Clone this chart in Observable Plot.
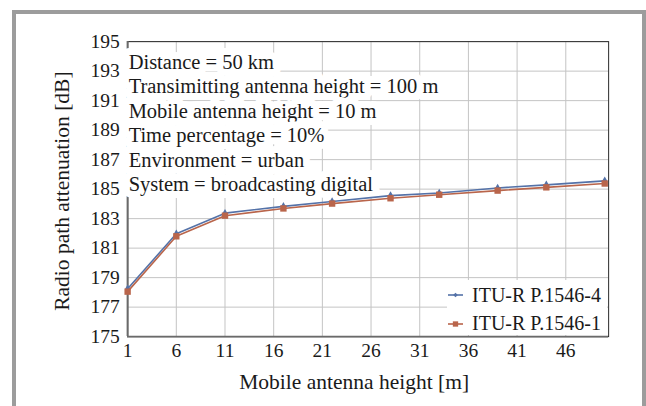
<!DOCTYPE html>
<html>
<head>
<meta charset="utf-8">
<script src="https://cdn.jsdelivr.net/npm/d3@7"></script>
<script src="https://cdn.jsdelivr.net/npm/@observablehq/plot@0.6"></script>
<style>
  html, body { margin: 0; padding: 0; background: white; }
  #wrap { position: relative; width: 646px; height: 406px; overflow: hidden; }
  #wrap > svg.plotsvg { position: absolute; left: 0; top: 0; width: 646px; height: 406px; max-width: none; }
  #frame { position: absolute; left: 12px; top: 10px; width: 634px; height: 420px; box-sizing: border-box;
           border: 4px solid #9c9c9c; border-bottom: none; pointer-events: none; }
  #legend { position: absolute; left: 447px; top: 280px; width: 160px; height: 55px; background: white; }
  .item { position: absolute; left: 0; height: 24px; display: flex; align-items: center; color: #1a1a1a; white-space: nowrap; line-height: 1.15; }
  .item svg { margin-right: 9px; }
</style>
</head>
<body>
<div id="wrap">
  <div id="frame"></div>
</div>
<script>
// ---- data ----
const heights = [1, 6, 11, 17, 22, 28, 33, 39, 44, 50];
const p1546_4 = [178.25, 181.97, 183.37, 183.83, 184.16, 184.56, 184.74, 185.08, 185.29, 185.56];
const p1546_1 = [178.05, 181.8, 183.2, 183.69, 184.02, 184.38, 184.62, 184.9, 185.12, 185.38];
const seriesNames = ["ITU-R P.1546-4", "ITU-R P.1546-1"];
const seriesColors = ["#5472a8", "#b9654b"];
const xTicks = [1, 6, 11, 16, 21, 26, 31, 36, 41, 46];
const yTicks = [175, 177, 179, 181, 183, 185, 187, 189, 191, 193, 195];
const xDomain = [1, 50.4];
const yDomain = [175, 195];
const annotation = [
  "Distance = 50 km",
  "Transimitting antenna height = 100 m",
  "Mobile antenna height = 10 m",
  "Time percentage = 10%",
  "Environment = urban",
  "System = broadcasting digital"
];
const xLabel = "Mobile antenna height [m]";
const yLabel = "Radio path attenuation [dB]";

const s4 = heights.map((h, i) => ({x: h, y: p1546_4[i]}));
const s1 = heights.map((h, i) => ({x: h, y: p1546_1[i]}));

// laid out at 1/k and scaled up by the SVG viewBox
const k = 1.25;
const s = v => v / k;
const serif = "'Liberation Serif'";
const chart = Plot.plot({
  width: s(646),
  height: s(406),
  marginLeft: s(127),
  marginRight: s(38),
  marginTop: s(41),
  marginBottom: s(70),
  style: {fontFamily: serif, fontSize: s(19.5) + "px", background: "transparent", color: "#1a1a1a"},
  x: {domain: xDomain},
  y: {domain: yDomain},
  marks: [
    Plot.gridX(xTicks, {stroke: "#c4c4c4", strokeOpacity: 1, strokeWidth: s(1)}),
    Plot.gridY(yTicks, {stroke: "#c4c4c4", strokeOpacity: 1, strokeWidth: s(1)}),
    Plot.frame({stroke: "#2a2a2a", strokeWidth: s(1)}),
    Plot.ruleX([xDomain[0]], {stroke: "#6a6a6a", strokeWidth: s(2)}),
    Plot.ruleY([yDomain[0]], {stroke: "#6a6a6a", strokeWidth: s(2)}),
    Plot.text([annotation.join("\n")], {
      frameAnchor: "top-left", dx: s(1), dy: s(10), textAnchor: "start", lineAnchor: "top",
      lineHeight: 1.19, fontSize: s(20.5), fontFamily: serif, fontWeight: "normal", fontStyle: "normal", fill: "#1a1a1a",
      stroke: "white", strokeWidth: s(14), strokeLinejoin: "round"
    }),
    Plot.line(s4, {x: "x", y: "y", stroke: seriesColors[0], strokeWidth: s(1.6)}),
    Plot.dot(s4, {x: "x", y: "y", symbol: "diamond", r: s(2.6), fill: seriesColors[0], stroke: "none"}),
    Plot.line(s1, {x: "x", y: "y", stroke: seriesColors[1], strokeWidth: s(1.6)}),
    Plot.dot(s1, {x: "x", y: "y", symbol: "square", r: s(3.6), fill: seriesColors[1], stroke: "none"}),
    Plot.axisX(xTicks, {tickSize: 0, tickPadding: s(7), fontSize: s(19.5), fontFamily: serif, label: null}),
    Plot.axisY(yTicks, {tickSize: 0, tickPadding: s(8), fontSize: s(19.5), fontFamily: serif, label: null}),
    Plot.text([xLabel], {frameAnchor: "bottom", dx: s(-14), dy: s(45), lineAnchor: "middle", fontSize: s(21.5), fontFamily: serif, fill: "#1a1a1a"}),
    Plot.text([yLabel], {frameAnchor: "left", textAnchor: "middle", rotate: -90, dx: s(-66), dy: s(2), lineAnchor: "middle", fontSize: s(21.5), fontFamily: serif, fill: "#1a1a1a"})
  ]
});
chart.classList.add("plotsvg");
chart.setAttribute("width", 646);
chart.setAttribute("height", 406);
const wrap = document.getElementById("wrap");
wrap.insertBefore(chart, wrap.firstChild);

// legend inside plot area (bottom-right)
const legend = document.createElement("div");
legend.id = "legend";
seriesNames.forEach((name, i) => {
  const item = document.createElement("div");
  item.className = "item";
  item.style.top = (3 + i * 28.5) + "px";
  const sw = d3.create("svg").attr("width", 16).attr("height", 12);
  sw.append("line").attr("x1", 1).attr("x2", 16).attr("y1", 6).attr("y2", 6)
    .attr("stroke", seriesColors[i]).attr("stroke-width", 1.6);
  sw.append("path").attr("transform", "translate(8.5,6)")
    .attr("d", d3.symbol(i === 0 ? d3.symbolDiamond2 : d3.symbolSquare2, i === 0 ? 14 : 36)())
    .attr("fill", seriesColors[i]);
  item.appendChild(sw.node());
  const t = document.createElement("span");
  t.setAttribute("style", "font-size:20px;font-family:'Liberation Serif';font-weight:normal;font-style:normal");
  t.textContent = name;
  item.appendChild(t);
  legend.appendChild(item);
});
wrap.appendChild(legend);
</script>
</body>
</html>
